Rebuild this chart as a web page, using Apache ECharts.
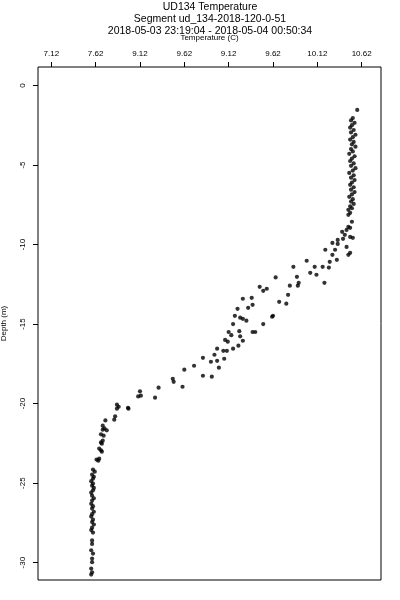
<!DOCTYPE html>
<html>
<head>
<meta charset="utf-8">
<script src="https://cdn.jsdelivr.net/npm/echarts@6/dist/echarts.min.js"></script>
<style>
html,body{margin:0;padding:0;background:#fff;}
#chart{width:400px;height:600px;}
</style>
</head>
<body>
<div id="chart"></div>
<script>
var titleLines = ["UD134 Temperature", "Segment ud_134-2018-120-0-51", "2018-05-03 23:19:04 - 2018-05-04 00:50:34"];
var xName = "Temperature (C)";
var yName = "Depth (m)";
var xTickValues = [7.12, 7.62, 8.12, 8.62, 9.12, 9.62, 10.12, 10.62];
var xTickLabels = ["7.12", "7.62", "9.12", "9.62", "9.12", "9.62", "10.12", "10.62"];
var yTickValues = [0, -5, -10, -15, -20, -25, -30];

var temperature = [
10.57,10.52,10.50,10.54,10.51,10.49,10.53,10.50,10.55,10.52,10.49,10.53,10.51,10.55,10.50,10.52,10.48,10.54,10.51,10.49,10.53,
10.50,10.55,10.52,10.48,10.53,10.50,10.54,10.51,10.49,10.53,10.50,10.54,10.51,10.48,10.52,10.50,10.53,10.49,10.51,10.47,
10.49,10.47,10.51,10.47,10.49,10.45,10.40,10.43,10.49,10.52,10.35,10.41,10.45,
10.29,10.35,10.32,10.21,10.49,10.47,10.29,10.34,10.26,10.00,9.85,10.09,10.18,10.25,10.04,10.11,
9.65,9.89,9.81,9.90,9.91,10.20,9.47,9.51,9.55,9.79,9.28,9.38,9.69,9.77,9.22,9.34,9.39,
9.19,9.25,9.28,9.32,9.62,9.61,9.17,9.51,9.12,9.15,9.24,9.25,9.39,9.42,9.08,9.11,9.28,9.23,
8.99,9.06,9.10,9.17,8.96,8.83,8.92,8.99,9.07,9.01,8.62,8.73,8.83,8.93,8.60,
8.49,8.50,8.33,8.12,8.13,8.10,8.29,7.86,7.86,7.88,7.985,7.99,7.84,7.83,7.73,
7.70,7.70,7.72,7.745,7.68,7.71,7.70,7.68,7.69,7.66,7.68,7.69,7.63,7.65,7.66,
7.59,7.61,7.58,7.60,7.59,7.57,7.59,7.58,7.60,7.59,7.57,7.58,7.60,7.58,7.57,7.59,7.58,7.60,7.58,7.57,
7.59,7.58,7.60,7.58,7.57,7.59,7.58,7.58,7.57,7.59,7.58,7.58,7.57,7.58,7.57
];
var depth = [
-1.54,-2.05,-2.2,-2.35,-2.5,-2.65,-2.8,-2.95,-3.1,-3.25,-3.4,-3.55,-3.7,-3.85,-4.0,-4.15,-4.3,-4.45,-4.6,-4.75,-4.9,
-5.05,-5.2,-5.35,-5.5,-5.65,-5.8,-5.95,-6.1,-6.25,-6.4,-6.55,-6.7,-6.85,-7.0,-7.15,-7.3,-7.45,-7.6,-7.72,-7.82,
-8.01,-8.13,-8.57,-8.89,-8.95,-9.08,-9.2,-9.39,-9.52,-9.58,-9.71,-9.64,-10.15,
-9.9,-9.96,-10.33,-10.33,-10.52,-10.65,-10.65,-10.96,-11.09,-11.02,-11.4,-11.4,-11.4,-11.45,-11.78,-11.9,
-12.07,-12.03,-12.59,-12.59,-12.41,-12.41,-12.66,-12.91,-12.78,-13.16,-13.41,-13.35,-13.6,-13.72,-14.04,-13.98,-13.79,
-14.48,-14.6,-14.67,-14.79,-14.48,-14.54,-15.0,-15.0,-15.5,-15.7,-15.45,-15.77,-15.5,-15.5,-16.0,-16.11,-16.05,-16.36,
-16.55,-16.68,-16.68,-16.55,-16.93,-17.12,-17.37,-17.31,-17.18,-17.74,-17.87,-17.62,-18.25,-18.31,-18.94,
-18.44,-18.63,-19.0,-19.23,-19.5,-19.55,-19.63,-20.07,-20.32,-20.2,-20.26,-20.32,-20.8,-21.01,-21.06,
-21.39,-21.64,-21.56,-21.68,-21.93,-22.02,-22.33,-22.44,-22.52,-22.83,-22.94,-23.02,-23.52,-23.59,-23.46,
-24.15,-24.28,-24.47,-24.6,-24.72,-24.88,-25.03,-25.16,-25.3,-25.45,-25.6,-25.79,-25.95,-26.1,-26.3,-26.45,-26.6,-26.8,-26.95,-27.1,
-27.3,-27.45,-27.6,-27.8,-27.95,-28.11,-28.6,-28.82,-29.22,-29.43,-29.74,-29.97,-30.37,-30.61,-30.75
];

var points = temperature.map(function (t, i) { return [t, depth[i]]; });
var FONT = "'Liberation Sans', Arial, sans-serif";

var chart = echarts.init(document.getElementById('chart'), null, {renderer: 'canvas'});
chart.setOption({
  animation: false,
  backgroundColor: '#ffffff',
  grid: {left: 38, right: 19, top: 67, bottom: 20, containLabel: false, outerBoundsMode: 'none',
    show: true, borderColor: '#000', borderWidth: 1, backgroundColor: 'transparent'},
  graphic: titleLines.map(function (t, i) {
    return {type: 'text', x: 210, y: 7.5 + i * 12, style: {text: t, fill: '#000', font: '10.5px ' + FONT, textAlign: 'center', textVerticalAlign: 'middle'}};
  }),
  xAxis: {
    type: 'value', position: 'top', min: 6.97, max: 10.838,
    name: xName, nameLocation: 'middle', nameGap: 25,
    nameTextStyle: {fontSize: 8, color: '#000', fontFamily: FONT},
    axisLine: {show: false, onZero: false},
    splitLine: {show: false},
    axisTick: {show: true, inside: false, length: 5, lineStyle: {color: '#000', width: 1}, customValues: xTickValues},
    axisLabel: {show: true, fontSize: 8, color: '#000', fontFamily: FONT, margin: 9, customValues: xTickValues,
      formatter: function (v) {
        for (var i = 0; i < xTickValues.length; i++) { if (Math.abs(v - xTickValues[i]) < 1e-6) return xTickLabels[i]; }
        return '';
      }}
  },
  yAxis: {
    type: 'value', min: -31.09, max: 1.16,
    name: yName, nameLocation: 'middle', nameGap: 30, nameRotate: 90,
    nameTextStyle: {fontSize: 8, color: '#000', fontFamily: FONT},
    axisLine: {show: false, onZero: false},
    splitLine: {show: false},
    axisTick: {show: true, inside: false, length: 5, lineStyle: {color: '#000', width: 1}, customValues: yTickValues},
    axisLabel: {show: true, fontSize: 8, color: '#000', fontFamily: FONT, margin: 11, rotate: 90, customValues: yTickValues,
      formatter: function (v) { return String(v); }}
  },
  series: [{
    type: 'scatter', data: points, symbol: 'circle', symbolSize: 4.2,
    itemStyle: {color: '#000'}, silent: true
  }]
});
</script>
</body>
</html>
